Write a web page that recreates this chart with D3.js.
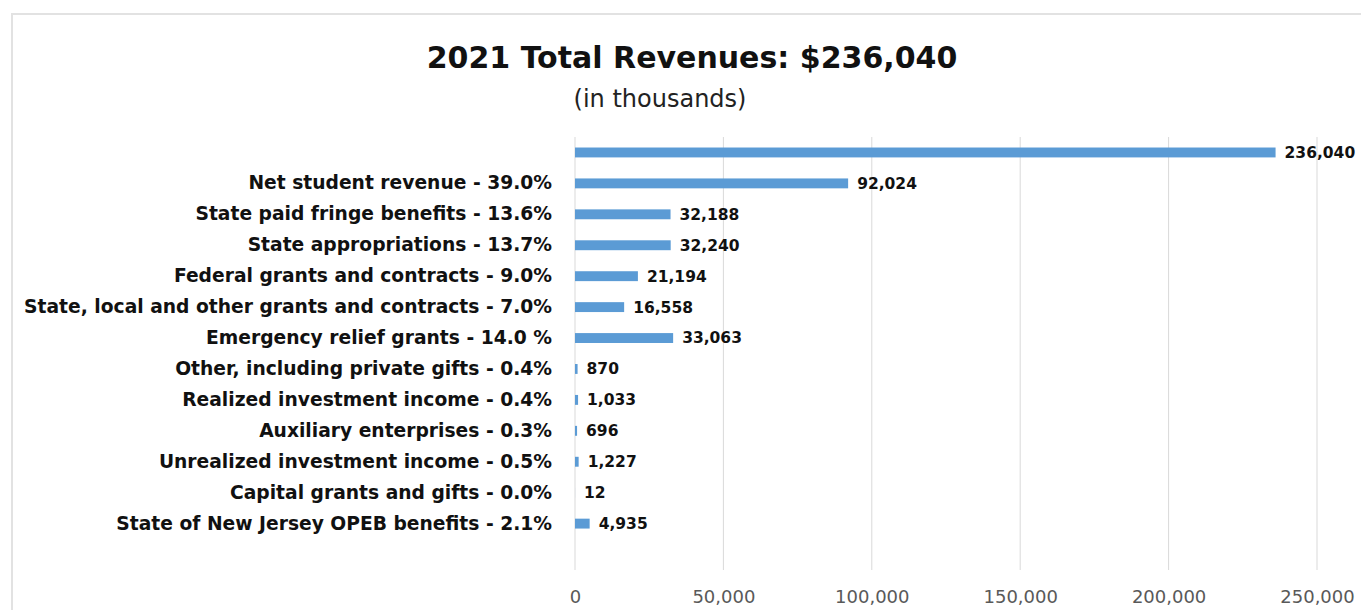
<!DOCTYPE html>
<html>
<head>
<meta charset="utf-8">
<script src="https://cdn.jsdelivr.net/npm/d3@7"></script>
<style>
  body { margin: 0; background: #fff; }
  svg { display: block; }
  .grid-line { stroke: #d9d9d9; stroke-width: 1; }
  .tick-label { fill: #595959; font-family: "DejaVu Sans", sans-serif; font-size: 18px; }
  .cat-label { fill: #111; font-family: "DejaVu Sans", sans-serif; font-size: 18.7px; font-weight: bold; }
  .value-label { fill: #111; font-family: "DejaVu Sans", sans-serif; font-size: 15.5px; font-weight: bold; }
</style>
</head>
<body>
<div id="wrapper"></div>
<script>

// 1. Data

const categories = [
  "",
  "Net student revenue - 39.0%",
  "State paid fringe benefits - 13.6%",
  "State appropriations - 13.7%",
  "Federal grants and contracts - 9.0%",
  "State, local and other grants and contracts - 7.0%",
  "Emergency relief grants - 14.0 %",
  "Other, including private gifts - 0.4%",
  "Realized investment income - 0.4%",
  "Auxiliary enterprises - 0.3%",
  "Unrealized investment income - 0.5%",
  "Capital grants and gifts - 0.0%",
  "State of New Jersey OPEB benefits - 2.1%"
]
const values = [236040, 92024, 32188, 32240, 21194, 16558, 33063, 870, 1033, 696, 1227, 12, 4935]
const xTicks = [0, 50000, 100000, 150000, 200000, 250000]
const titleText = "2021 Total Revenues: $236,040"
const subtitleText = "(in thousands)"

const dataset = categories.map((c, i) => ({ key: "c" + i, label: c, value: values[i] }))

// 2. Dimensions

let dimensions = {
  width: 1361,
  height: 610,
  margin: { top: 137, right: 44, bottom: 40, left: 575 },
}
dimensions.boundedWidth = dimensions.width - dimensions.margin.left - dimensions.margin.right
dimensions.boundedHeight = dimensions.height - dimensions.margin.top - dimensions.margin.bottom

// 3. Canvas

const wrapper = d3.select("#wrapper")
  .append("svg")
    .attr("width", dimensions.width)
    .attr("height", dimensions.height)

// chart frame (runs off the right/bottom edge like the screenshot)
wrapper.append("rect")
  .attr("x", 12).attr("y", 14)
  .attr("width", dimensions.width + 10).attr("height", dimensions.height + 10)
  .attr("fill", "none")
  .attr("stroke", "#e2e2e2")
  .attr("stroke-width", 2)

wrapper.append("text")
  .text(titleText)
  .attr("x", 692).attr("y", 68)
  .attr("text-anchor", "middle")
  .style("font-family", "DejaVu Sans, sans-serif")
  .style("font-size", "30px")
  .style("font-weight", "bold")
  .style("fill", "#111")

wrapper.append("text")
  .text(subtitleText)
  .attr("x", 660).attr("y", 107)
  .attr("text-anchor", "middle")
  .style("font-family", "DejaVu Sans, sans-serif")
  .style("font-size", "24px")
  .style("fill", "#222")

const bounds = wrapper.append("g")
  .attr("transform", `translate(${dimensions.margin.left}, ${dimensions.margin.top})`)

// 4. Scales

const xScale = d3.scaleLinear()
  .domain([0, 250000])
  .range([0, 742])

// one empty slot at the bottom, as in the original plot area
const yScale = d3.scaleBand()
  .domain([...dataset.map(d => d.key), "spacer"])
  .range([0, 433])
  .paddingInner(0.68)
  .paddingOuter(0.34)

// 6. Peripherals

const peripherals = bounds.append("g")

xTicks.forEach(t => {
  peripherals.append("line")
    .attr("class", "grid-line")
    .attr("x1", xScale(t)).attr("x2", xScale(t))
    .attr("y1", 0).attr("y2", 433)
})

const xAxis = bounds.append("g")
  .attr("transform", "translate(0, 433)")
  .call(d3.axisBottom(xScale).tickValues(xTicks).tickSize(0).tickPadding(20).tickFormat(d3.format(",")))
xAxis.select(".domain").remove()
xAxis.selectAll("text").attr("class", "tick-label")

const yAxis = bounds.append("g")
  .call(d3.axisLeft(yScale).tickSize(0).tickPadding(23)
    .tickFormat(k => { const d = dataset.find(e => e.key === k); return d ? d.label : "" }))
yAxis.select(".domain").remove()
yAxis.selectAll("text").attr("class", "cat-label")

// 5. Data

bounds.append("g").selectAll("rect")
  .data(dataset)
  .join("rect")
    .attr("x", 0)
    .attr("y", d => yScale(d.key))
    .attr("width", d => xScale(d.value))
    .attr("height", yScale.bandwidth())
    .attr("fill", "#5b9bd5")

bounds.append("g").selectAll("text")
  .data(dataset)
  .join("text")
    .attr("class", "value-label")
    .attr("x", d => xScale(d.value) + 9)
    .attr("y", d => yScale(d.key) + yScale.bandwidth() / 2)
    .attr("dy", "0.35em")
    .text(d => d3.format(",")(d.value))

</script>
</body>
</html>
